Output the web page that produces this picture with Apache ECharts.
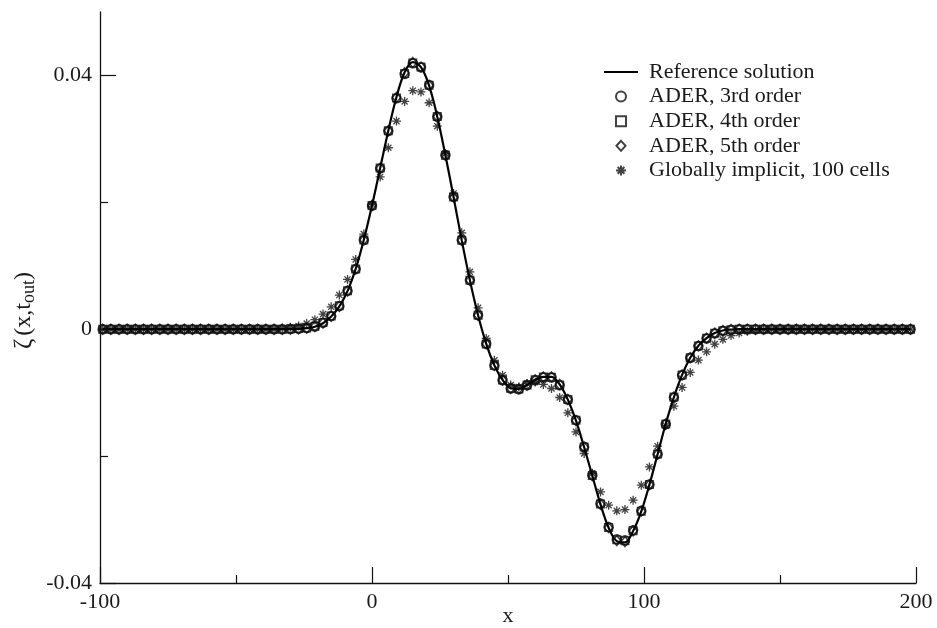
<!DOCTYPE html>
<html>
<head>
<meta charset="utf-8">
<script src="https://cdn.jsdelivr.net/npm/echarts@6/dist/echarts.min.js"></script>
<style>
  html, body { margin: 0; padding: 0; background: #fff; }
  #chart { width: 937px; height: 628px; }
</style>
</head>
<body>
<div id="chart"></div>
<script>
// Cell positions (x) shared by every series
const xs = [
  -99, -96, -93, -90, -87, -84, -81, -78, -75, -72,
  -69, -66, -63, -60, -57, -54, -51, -48, -45, -42,
  -39, -36, -33, -30, -27, -24, -21, -18, -15, -12,
  -9, -6, -3, 0, 3, 6, 9, 12, 15, 18,
  21, 24, 27, 30, 33, 36, 39, 42, 45, 48,
  51, 54, 57, 60, 63, 66, 69, 72, 75, 78,
  81, 84, 87, 90, 93, 96, 99, 102, 105, 108,
  111, 114, 117, 120, 123, 126, 129, 132, 135, 138,
  141, 144, 147, 150, 153, 156, 159, 162, 165, 168,
  171, 174, 177, 180, 183, 186, 189, 192, 195, 198
];

// Reference solution zeta(x, t_out)
const refSolution = [
  0, 0, 0, 0, 0, 0, 0, 0, 0, 0,
  0, 0, 0, 0, 0, 0, 0, 0, 0, 0,
  0, 0, 0, 0.00002, 0.00006, 0.00016, 0.0004, 0.00095, 0.002, 0.0036,
  0.006, 0.0095, 0.0141, 0.0195, 0.0254, 0.0313, 0.0366, 0.0405, 0.0421, 0.0413,
  0.0384, 0.0335, 0.0274, 0.0208, 0.014, 0.0077, 0.0022, -0.0023, -0.0057, -0.008,
  -0.0093, -0.0094, -0.0088, -0.008, -0.0075, -0.0075, -0.0087, -0.0111, -0.0144, -0.0186,
  -0.0231, -0.0276, -0.0313, -0.0334, -0.0336, -0.0318, -0.0287, -0.0245, -0.0197, -0.0149,
  -0.0107, -0.0072, -0.0045, -0.0026, -0.0014, -0.0006, -0.0002, -0.00006, 0, 0,
  0, 0, 0, 0, 0, 0, 0, 0, 0, 0,
  0, 0, 0, 0, 0, 0, 0, 0, 0, 0
];

// ADER, 3rd order
const ader3 = [
  0, 0, 0, 0, 0, 0, 0, 0, 0, 0,
  0, 0, 0, 0, 0, 0, 0, 0, 0, 0,
  0, 0, 0, 0.00003, 0.00008, 0.00018, 0.00044, 0.00101, 0.00207, 0.00364,
  0.00605, 0.00948, 0.01405, 0.01946, 0.02535, 0.03124, 0.03639, 0.04022, 0.04191, 0.04128,
  0.0385, 0.0335, 0.02745, 0.02088, 0.01405, 0.00774, 0.00222, -0.0023, -0.0057, -0.00803,
  -0.00934, -0.00945, -0.00882, -0.00803, -0.0076, -0.0076, -0.00882, -0.01107, -0.01433, -0.01854,
  -0.023, -0.02747, -0.03116, -0.0331, -0.03325, -0.03168, -0.02863, -0.02447, -0.01969, -0.01496,
  -0.01075, -0.00724, -0.00451, -0.00266, -0.00145, -0.00066, -0.00025, -0.00008, -0.00002, 0,
  0, 0, 0, 0, 0, 0, 0, 0, 0, 0,
  0, 0, 0, 0, 0, 0, 0, 0, 0, 0
];

// ADER, 4th order
const ader4 = [
  0, 0, 0, 0, 0, 0, 0, 0, 0, 0,
  0, 0, 0, 0, 0, 0, 0, 0, 0, 0,
  0, 0, 0, 0.00004, 0.0001, 0.0002, 0.00048, 0.00105, 0.0021, 0.00368,
  0.00608, 0.0095, 0.01408, 0.0195, 0.0254, 0.0313, 0.03645, 0.04032, 0.04198, 0.04132,
  0.03846, 0.03352, 0.02742, 0.02084, 0.01402, 0.00772, 0.00222, -0.00232, -0.00572, -0.00802,
  -0.00932, -0.00942, -0.00878, -0.00798, -0.00754, -0.00756, -0.0088, -0.01108, -0.01436, -0.01858,
  -0.02306, -0.02754, -0.03124, -0.0332, -0.03336, -0.03176, -0.02868, -0.02448, -0.01968, -0.01492,
  -0.0107, -0.0072, -0.00448, -0.00263, -0.00142, -0.00064, -0.00024, -0.00007, -0.00002, 0,
  0, 0, 0, 0, 0, 0, 0, 0, 0, 0,
  0, 0, 0, 0, 0, 0, 0, 0, 0, 0
];

// ADER, 5th order
const ader5 = [
  0, 0, 0, 0, 0, 0, 0, 0, 0, 0,
  0, 0, 0, 0, 0, 0, 0, 0, 0, 0,
  0, 0, 0, 0.00003, 0.00007, 0.00017, 0.00042, 0.00098, 0.00203, 0.00362,
  0.00602, 0.00949, 0.01408, 0.01948, 0.02538, 0.03128, 0.03652, 0.04042, 0.04205, 0.04132,
  0.03843, 0.03351, 0.0274, 0.02082, 0.01401, 0.00771, 0.00221, -0.00231, -0.00571, -0.008,
  -0.0093, -0.0094, -0.00879, -0.00798, -0.00752, -0.00752, -0.00872, -0.01108, -0.01438, -0.0186,
  -0.02308, -0.02758, -0.03128, -0.03332, -0.03348, -0.03178, -0.02868, -0.02449, -0.01969, -0.01491,
  -0.01069, -0.00719, -0.00449, -0.00262, -0.00141, -0.00062, -0.00022, -0.00006, -0.00001, 0,
  0, 0, 0, 0, 0, 0, 0, 0, 0, 0,
  0, 0, 0, 0, 0, 0, 0, 0, 0, 0
];

// Globally implicit, 100 cells
const implicit100 = [
  0, 0, 0, 0, 0, 0, 0, 0, 0, 0,
  0, 0, 0, 0, 0, 0, 0, 0, 0, 0,
  0, 0.00005, 0.00015, 0.0003, 0.0005, 0.0009, 0.0015, 0.00238, 0.00353, 0.00538,
  0.00785, 0.011, 0.015, 0.0197, 0.024, 0.0286, 0.0328, 0.0359, 0.0376, 0.0374,
  0.0357, 0.032, 0.0277, 0.0214, 0.0152, 0.00905, 0.00337, -0.00145, -0.0049, -0.00724,
  -0.0088, -0.0091, -0.00855, -0.0083, -0.0087, -0.00934, -0.01076, -0.01318, -0.01618, -0.01959,
  -0.0227, -0.02564, -0.02774, -0.02863, -0.02842, -0.02695, -0.02458, -0.0217, -0.01843, -0.0152,
  -0.01213, -0.00918, -0.00681, -0.00487, -0.00356, -0.00235, -0.0016, -0.001, -0.0006, -0.0003,
  -0.00015, -0.00005, 0, 0, 0, 0, 0, 0, 0, 0,
  0, 0, 0, 0, 0, 0, 0, 0, 0, 0
];

// Axis tick values
const xTicks = [-100, 0, 100, 200];
const yMajorTicks = [-0.04, 0, 0.04];
const yMinorTicks = [-0.02, 0.02];

const seriesNames = [
  'Reference solution',
  'ADER, 3rd order',
  'ADER, 4th order',
  'ADER, 5th order',
  'Globally implicit, 100 cells'
];

const pairs = (vals) => xs.map((x, i) => [x, vals[i]]);

const FONT = 'Liberation Serif';
const INK = '#1a1a1a';
const MARK = '#111';

// Marker outlines
const squareIcon = 'path://M0,0H10V10H0Z';
const diamondIcon = 'path://M5,0L10,5.5L5,11L0,5.5Z';
const asterisk = 'path://M5,0L5,10M0,5L10,5M1.6,1.6L8.4,8.4M8.4,1.6L1.6,8.4';
const lineIcon = 'path://M0,0H34V2H0Z';

const markerStyle = {
  color: 'rgba(0,0,0,0)',
  borderColor: MARK,
  borderWidth: 1.5
};

const chart = echarts.init(document.getElementById('chart'), null, { renderer: 'canvas' });

chart.setOption({
  animation: false,
  backgroundColor: '#fff',
  grid: { left: 100, right: 21, top: 12, bottom: 45, containLabel: false, outerBoundsMode: 'none' },
  legend: {
    data: [
      { name: seriesNames[0], icon: lineIcon, itemStyle: { color: '#000', borderWidth: 0 } },
      { name: seriesNames[1] },
      { name: seriesNames[2] },
      { name: seriesNames[3] },
      { name: seriesNames[4] }
    ],
    orient: 'vertical',
    left: 599,
    top: 55,
    itemWidth: 34,
    itemHeight: 10,
    itemGap: 0.6,
    symbolKeepAspect: true,
    textStyle: {
      fontFamily: FONT,
      fontSize: 22,
      color: INK,
      lineHeight: 24,
      padding: [0, 0, 0, 6]
    }
  },
  xAxis: {
    type: 'value',
    min: xTicks[0],
    max: xTicks[xTicks.length - 1],
    interval: 100,
    name: 'x',
    nameLocation: 'middle',
    nameGap: 22,
    nameMoveOverlap: false,
    nameTextStyle: { fontFamily: FONT, fontSize: 22, color: INK },
    axisLine: { show: true, onZero: false, lineStyle: { color: '#111', width: 1.3 } },
    axisTick: { show: true, inside: true, length: 16, lineStyle: { color: '#111', width: 1.2 } },
    minorTick: { show: true, splitNumber: 2, length: 8, lineStyle: { color: '#111', width: 1.2 } },
    axisLabel: { fontFamily: FONT, fontSize: 22, color: INK, margin: 8 },
    splitLine: { show: false }
  },
  yAxis: [
    {
      type: 'value',
      min: -0.04,
      max: 0.05,
      interval: 0.04,
      name: '{z|ζ}{g|(x,t}{s|out}{g|)}',
      nameLocation: 'middle',
      nameGap: 62,
      nameRotate: 90,
      nameMoveOverlap: false,
      nameTextStyle: {
        padding: [0, 26, 0, 0],
        rich: {
          z: { fontFamily: FONT, fontSize: 25, color: INK, lineHeight: 26, verticalAlign: 'top', padding: [0, 3, 0, 0] },
          g: { fontFamily: FONT, fontSize: 24, color: INK, lineHeight: 26, verticalAlign: 'top' },
          s: { fontFamily: FONT, fontSize: 18, color: INK, lineHeight: 12, verticalAlign: 'bottom' }
        }
      },
      axisLine: { show: true, onZero: false, lineStyle: { color: '#111', width: 1.3 } },
      axisTick: { show: true, inside: true, length: 16, customValues: yMajorTicks, lineStyle: { color: '#111', width: 1.2 } },
      axisLabel: {
        fontFamily: FONT, fontSize: 22, color: INK, margin: 8,
        padding: [7, 0, 0, 0],
        customValues: yMajorTicks,
        formatter: (v) => (Math.abs(v) < 1e-9 ? '0' : v.toFixed(2))
      },
      splitLine: { show: false }
    },
    {
      // minor ticks on the left axis
      type: 'value',
      min: -0.04,
      max: 0.05,
      position: 'left',
      axisLine: { show: false, onZero: false },
      axisTick: { show: true, inside: true, length: 8, customValues: yMinorTicks, lineStyle: { color: '#111', width: 1.2 } },
      axisLabel: { show: false },
      splitLine: { show: false }
    }
  ],
  series: [
    {
      name: seriesNames[1],
      type: 'scatter',
      data: pairs(ader3),
      symbol: 'circle',
      symbolSize: 9,
      itemStyle: markerStyle,
      z: 3
    },
    {
      name: seriesNames[2],
      type: 'scatter',
      data: pairs(ader4),
      symbol: squareIcon,
      symbolSize: 7.5,
      symbolKeepAspect: true,
      itemStyle: markerStyle,
      z: 3
    },
    {
      name: seriesNames[3],
      type: 'scatter',
      data: pairs(ader5),
      symbol: diamondIcon,
      symbolSize: [9, 10],
      symbolKeepAspect: true,
      itemStyle: markerStyle,
      z: 3
    },
    {
      name: seriesNames[4],
      type: 'scatter',
      data: pairs(implicit100),
      symbol: asterisk,
      symbolSize: 9,
      symbolKeepAspect: true,
      itemStyle: { color: 'rgba(0,0,0,0)', borderColor: MARK, borderWidth: 1.3 },
      z: 3
    },
    {
      name: seriesNames[0],
      type: 'line',
      data: pairs(refSolution),
      smooth: 0.35,
      symbol: 'none',
      showSymbol: false,
      lineStyle: { color: '#000', width: 2.2 },
      itemStyle: { color: '#000' },
      z: 4
    }
  ]
});
</script>
</body>
</html>
